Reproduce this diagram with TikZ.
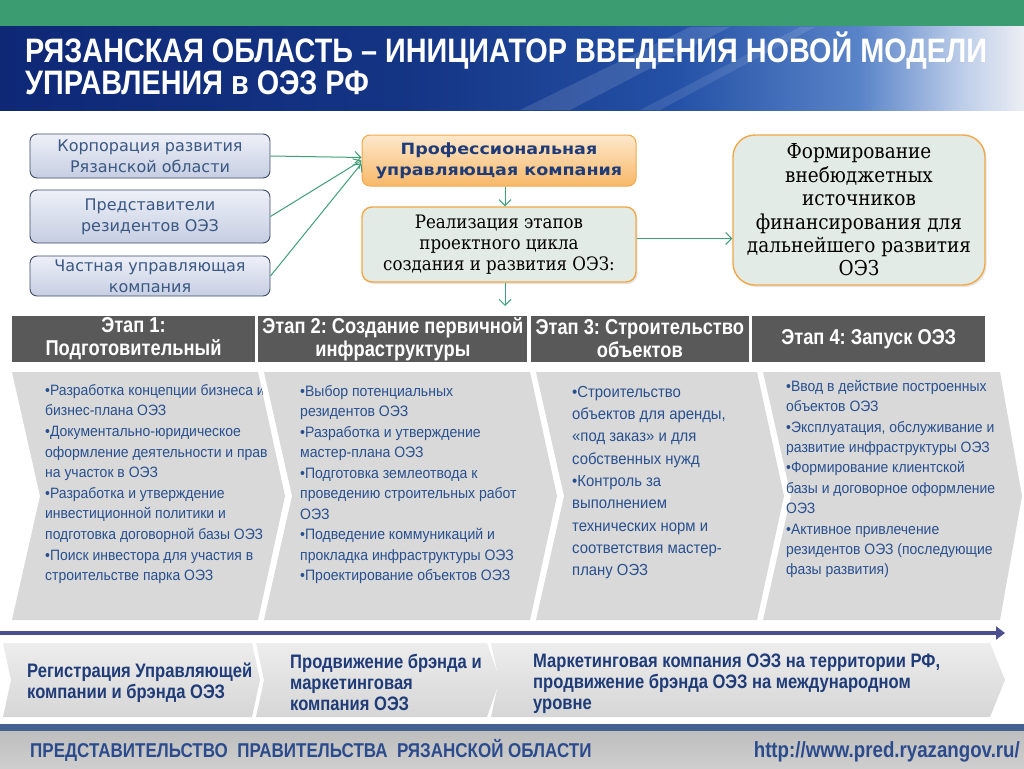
\documentclass[tikz,border=0pt]{standalone}
\usepackage{fontspec}
\setmainfont{Liberation Sans}
\newfontfamily\narrowfont[FakeStretch=0.85]{Liberation Sans}
\newfontfamily\chevfont[FakeStretch=0.93]{Liberation Sans}
\newfontfamily\boxfont{DejaVu Sans}
\newfontfamily\wideboldfont[FakeStretch=1.13]{DejaVu Sans}
\newfontfamily\bookfont[FakeStretch=0.9]{DejaVu Serif}
\frenchspacing
\usetikzlibrary{arrows.meta,positioning,calc,shadows}
\definecolor{topgreen}{HTML}{3A9C70}
\definecolor{arrowgreen}{HTML}{3FA077}
\definecolor{bannerdark}{HTML}{0E2876}
\definecolor{bannermid}{HTML}{2451A6}
\definecolor{bannerlight}{HTML}{5A84C8}
\definecolor{slateborder}{HTML}{3E4A66}
\definecolor{slatetext}{HTML}{3A5882}
\definecolor{lefttop}{HTML}{EEF0F8}
\definecolor{leftbot}{HTML}{C6CEE2}
\definecolor{navytext}{HTML}{1F3C78}
\definecolor{orangeborder}{HTML}{F2A848}
\definecolor{orangetop}{HTML}{FDE8CC}
\definecolor{orangebot}{HTML}{F8B868}
\definecolor{sagefill}{HTML}{E2EBE5}
\definecolor{stagegray}{HTML}{595959}
\definecolor{chevgray}{HTML}{D9D9D9}
\definecolor{bullettext}{HTML}{28508F}
\definecolor{timeline}{HTML}{4B4F8F}
\definecolor{promotop}{HTML}{EDEDED}
\definecolor{promobot}{HTML}{D6D6D6}
\definecolor{footline}{HTML}{456190}
\definecolor{footgray}{HTML}{BEBEBE}
\definecolor{foottext}{HTML}{2B4B8C}
\pgfdeclarehorizontalshading{bannershade}{100bp}{color(0bp)=(bannerdark); color(25bp)=(bannerdark); color(45bp)=(bannerdark!70!bannermid); color(58bp)=(bannermid); color(67bp)=(bannerlight); color(72bp)=(bannerlight!40!white); color(75bp)=(white!92!bannerdark); color(100bp)=(white)}

\begin{document}
\begin{tikzpicture}[
  x=1pt, y=-1pt,
  leftbox/.style={draw=slateborder, line width=0.9pt, rounded corners=7pt, top color=lefttop, bottom color=leftbot, minimum width=240pt, text=slatetext, align=center, inner sep=0pt, font=\boxfont\fontsize{16}{21}\selectfont},
  mgmt/.style={draw=orangeborder, line width=1pt, rounded corners=8pt, top color=orangetop, bottom color=orangebot, minimum width=274pt, minimum height=51pt, text=navytext, align=center, inner sep=0pt, font=\wideboldfont\bfseries\fontsize{15.5}{21}\selectfont},
  sagebox/.style={draw=orangeborder, line width=1.4pt, fill=sagefill, align=center, inner sep=0pt, text=black, drop shadow={opacity=0.2, shadow xshift=1.5pt, shadow yshift=-2pt}},
  flow/.style={-{Straight Barb[length=6pt,width=12pt]}, line width=1pt, color=arrowgreen},
  stagehead/.style={fill=stagegray, text=white, minimum height=46pt, align=center, inner sep=0pt, font=\narrowfont\bfseries\fontsize{21.5}{23}\selectfont},
  bullets/.style={anchor=north west, align=left, inner sep=0pt, text=bullettext},
  promo/.style={anchor=west, align=left, inner sep=0pt, text=navytext, font=\narrowfont\bfseries\fontsize{19.5}{21}\selectfont},
]
  \useasboundingbox (0,0) rectangle (1024,768);
  \fill[white] (0,0) rectangle (1024,768);

  % header
  \fill[topgreen] (0,0) rectangle (1024,27);
  \shade[shading=bannershade] (0,27) rectangle (1024,110);
  \fill[white, opacity=0.12] (520,110) -- (690,27) -- (730,27) -- (570,110) -- cycle;
  \fill[white, opacity=0.10] (640,110) -- (800,27) -- (815,27) -- (660,110) -- cycle;
  \node[anchor=base west, inner sep=0pt, text=white, font=\narrowfont\bfseries\fontsize{33.9}{36}\selectfont] (title1) at (25,63) {РЯЗАНСКАЯ ОБЛАСТЬ – ИНИЦИАТОР ВВЕДЕНИЯ НОВОЙ МОДЕЛИ};
  \node[anchor=base west, inner sep=0pt, text=white, font=\narrowfont\bfseries\fontsize{33.9}{36}\selectfont] (title2) at (25,94) {УПРАВЛЕНИЯ в ОЭЗ РФ};

  % participants
  \node[leftbox, minimum height=44pt] (corp) at (150,156) {Корпорация развития\\Рязанской области};
  \node[leftbox, minimum height=53pt] (resid) at (150,216.5) {Представители\\резидентов ОЭЗ};
  \node[leftbox, minimum height=40pt] (privco) at (150,276) {Частная управляющая\\компания};

  \node[mgmt] (pmc) at (499,160.5) {Профессиональная\\управляющая компания};
  \node[sagebox, rounded corners=10pt, minimum width=274pt, minimum height=75pt, font=\bookfont\fontsize{18.5}{21}\selectfont] (cycle) at (499,244.5) {Реализация этапов\\проектного цикла\\создания и развития ОЭЗ:};
  \node[sagebox, rounded corners=22pt, minimum width=252pt, minimum height=150pt, font=\bookfont\fontsize{20.5}{23.4}\selectfont] (funds) at (859,210) {Формирование\\внебюджетных\\источников\\финансирования для\\дальнейшего развития\\ОЭЗ};

  \draw[flow] (corp.east) -- ($(pmc.west)+(0,-3)$);
  \draw[flow] (resid.east) -- (pmc.west);
  \draw[flow] (privco.east) -- ($(pmc.west)+(0,3)$);
  \draw[flow] ([xshift=6pt]pmc.south) -- ([xshift=6pt]cycle.north);
  \coordinate (cycleout) at (505,306);
  \draw[flow] ([xshift=6pt]cycle.south) -- (cycleout);
  \draw[flow] ([yshift=6pt]cycle.east) -- ([yshift=6pt]cycle.east -| funds.west);

  % stages
  \node[stagehead, minimum width=243pt] (st1) at (133.5,339) {Этап 1:\\Подготовительный};
  \node[stagehead, minimum width=269pt, right=3pt of st1] (st2) {Этап 2: Создание первичной\\инфраструктуры};
  \node[stagehead, minimum width=218pt, right=3pt of st2] (st3) {Этап 3: Строительство\\объектов};
  \node[stagehead, minimum width=233pt, right=3pt of st3] (st4) {Этап 4: Запуск ОЭЗ};

  \foreach \xl/\xr/\tip in {12/258/27, 264/530/27, 536/757/27, 763/1000/22}
    \fill[chevgray] (\xl,372) -- (\xr,372) -- (\xr+\tip,496) -- (\xr,620) -- (\xl,620) -- (\xl+28,496) -- cycle;

  \begin{scope}
    \clip (12,372) -- (258,372) -- (285,496) -- (258,620) -- (12,620) -- (40,496) -- cycle;
    \node[bullets, font=\chevfont\fontsize{15}{20.6}\selectfont] (work1) at (45,384) {•Разработка концепции бизнеса и\\бизнес-плана ОЭЗ\\•Документально-юридическое\\оформление деятельности и прав\\на участок в ОЭЗ\\•Разработка и утверждение\\инвестиционной политики и\\подготовка договорной базы ОЭЗ\\•Поиск инвестора для участия в\\строительстве парка ОЭЗ};
  \end{scope}
  \node[bullets, font=\chevfont\fontsize{15.1}{20.5}\selectfont] (work2) at (300,385) {•Выбор потенциальных\\резидентов ОЭЗ\\•Разработка и утверждение\\мастер-плана ОЭЗ\\•Подготовка землеотвода к\\проведению строительных работ\\ОЭЗ\\•Подведение коммуникаций и\\прокладка инфраструктуры ОЭЗ\\•Проектирование объектов ОЭЗ};
  \node[bullets, font=\chevfont\fontsize{16}{22.3}\selectfont] (work3) at (572,386) {•Строительство\\объектов для аренды,\\«под заказ» и для\\собственных нужд\\•Контроль за\\выполнением\\технических норм и\\соответствия мастер-\\плану ОЭЗ};
  \node[bullets, font=\chevfont\fontsize{15}{20.4}\selectfont] (work4) at (786,380) {•Ввод в действие построенных\\объектов ОЭЗ\\•Эксплуатация, обслуживание и\\развитие инфраструктуры ОЭЗ\\•Формирование клиентской\\базы и договорное оформление\\ОЭЗ\\•Активное привлечение\\резидентов ОЭЗ (последующие\\фазы развития)};

  % timeline
  \coordinate (tlstart) at (0,633);
  \coordinate (tlend) at (1005,633);
  \draw[line width=4pt, color=timeline, -{Triangle[length=9pt,width=13pt]}] (tlstart) -- (tlend);

  \foreach \xl/\xr/\tip in {3/252/8, 256/487/13, 491/990/15}
    \shade[top color=promotop, bottom color=promobot] (\xl,643) -- (\xr,643) -- (\xr+\tip,680) -- (\xr,717) -- (\xl,717) -- (\xl+8,680) -- cycle;
  \node[promo] (promo1) at (27,682.5) {Регистрация Управляющей\\компании и брэнда ОЭЗ};
  \node[promo] (promo2) at (290,682) {Продвижение брэнда и\\маркетинговая\\компания ОЭЗ};
  \node[promo] (promo3) at (533,683.5) {Маркетинговая компания ОЭЗ на территории РФ,\\продвижение брэнда ОЭЗ на международном\\уровне};

  % footer
  \fill[footline] (0,724) rectangle (1024,731);
  \shade[top color=footgray, bottom color=footgray!75!white] (0,731) rectangle (1024,768);
  \node[anchor=base west, inner sep=0pt, text=foottext, font=\narrowfont\bfseries\fontsize{20}{22}\selectfont] (office) at (30,757.5) {ПРЕДСТАВИТЕЛЬСТВО\ \ ПРАВИТЕЛЬСТВА\ \ РЯЗАНСКОЙ ОБЛАСТИ};
  \node[anchor=base east, inner sep=0pt, text=foottext, font=\narrowfont\bfseries\fontsize{22}{24}\selectfont] (site) at (1020,757.5) {http://www.pred.ryazangov.ru/};
\end{tikzpicture}
\end{document}
